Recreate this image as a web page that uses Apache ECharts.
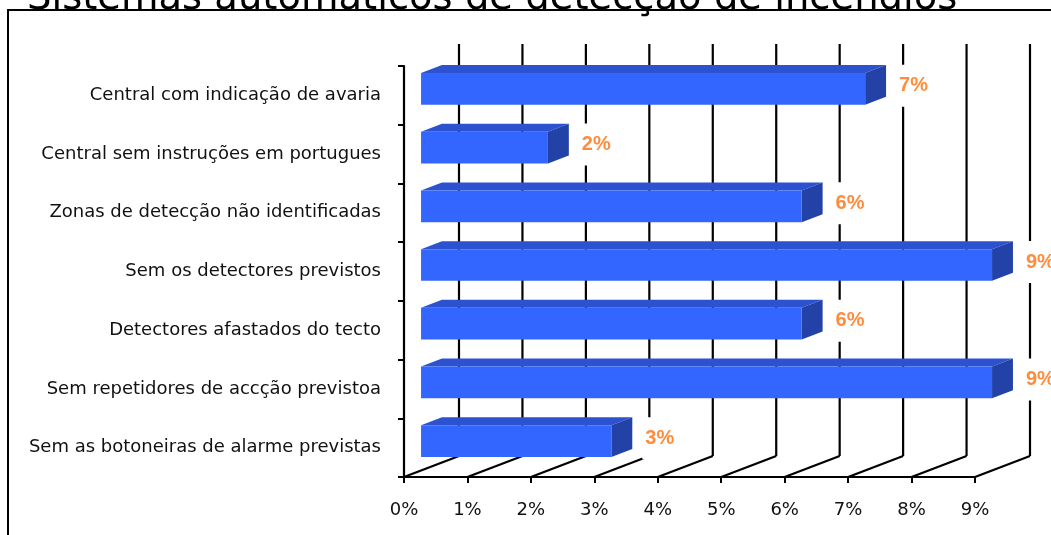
<!DOCTYPE html>
<html>
<head>
<meta charset="utf-8">
<script src="https://cdn.jsdelivr.net/npm/echarts@6/dist/echarts.min.js"></script>
<style>
  html, body { margin: 0; padding: 0; background: #fff; }
  #chart { width: 1051px; height: 535px; }
</style>
</head>
<body>
<div id="chart"></div>
<script>
// categorias (de cima para baixo)
const categories = [
  'Central com indicação de avaria',
  'Central sem instruções em portugues',
  'Zonas de detecção não identificadas',
  'Sem os detectores previstos',
  'Detectores afastados do tecto',
  'Sem repetidores de accção previstoa',
  'Sem as botoneiras de alarme previstas'
]
// percentagens
const values = [7, 2, 6, 9, 6, 9, 3]
// marcas do eixo x
const ticks = [0, 1, 2, 3, 4, 5, 6, 7, 8, 9]

const chart = echarts.init(document.getElementById('chart'))

/* profundidade 3D (estilo Excel) */
const DEPTH = [55, -21]
const FRONT = 0.31
const BACK = 0.69

function renderWall(params, api) {
  const cs = params.coordSys
  const x = api.coord([api.value(0), 0])[0]
  const bottom = cs.y + cs.height
  const top = cs.y
  const style = { stroke: '#000', lineWidth: 2.2 }
  return {
    type: 'group',
    children: [
      { type: 'line', shape: { x1: x, y1: bottom, x2: x + DEPTH[0], y2: bottom + DEPTH[1] }, style },
      { type: 'line', shape: { x1: x + DEPTH[0], y1: bottom + DEPTH[1], x2: x + DEPTH[0], y2: top + DEPTH[1] - 1 }, style }
    ]
  }
}

function renderBar(params, api) {
  const val = api.value(0)
  const cat = api.value(1)
  const p0 = api.coord([0, cat])
  const p1 = api.coord([val, cat])
  const h = api.size([0, 1])[1] * 0.54
  const fx = DEPTH[0] * FRONT, fy = DEPTH[1] * FRONT
  const dx = DEPTH[0] * (BACK - FRONT), dy = DEPTH[1] * (BACK - FRONT)
  const x = p0[0] + fx
  const y = p0[1] + fy - h / 2
  const w = p1[0] - p0[0]
  return {
    type: 'group',
    children: [
      { type: 'polygon', shape: { points: [[x, y], [x + w, y], [x + w + dx, y + dy], [x + dx, y + dy]] },
        style: { fill: '#2C52CF' } },
      { type: 'polygon', shape: { points: [[x + w, y], [x + w + dx, y + dy], [x + w + dx, y + dy + h], [x + w, y + h]] },
        style: { fill: '#2242A8' } },
      { type: 'rect', shape: { x: x, y: y, width: w, height: h }, style: { fill: '#3366FF' } },
      { type: 'text', x: x + w + dx + 10, y: (y + dy + y + h) / 2 + 1,
        style: {
          text: val + '%', fill: '#FF8C3C', fontSize: 20, fontWeight: 'bold',
          fontFamily: 'Liberation Sans',
          align: 'left', verticalAlign: 'middle', backgroundColor: '#fff', padding: [18, 3, 4, 3]
        } }
    ]
  }
}

const option = {
  animation: false,
  backgroundColor: '#fff',
  title: {
    text: 'Sistemas automáticos de detecção de incêndios',
    left: 27,
    top: -21,
    padding: 0,
    textStyle: { fontFamily: 'DejaVu Sans', fontSize: 38.5, fontWeight: 'normal', color: '#000' }
  },
  graphic: [
    { type: 'rect', shape: { x: 8, y: 10, width: 1100, height: 600 }, style: { fill: 'none', stroke: '#000', lineWidth: 2 }, z: 0 }
  ],
  grid: { left: 404, top: 66, right: 76, bottom: 58 },
  xAxis: {
    type: 'value',
    min: 0,
    max: 9,
    interval: 1,
    splitLine: { show: false },
    axisLine: { show: true, lineStyle: { color: '#000', width: 2.2 } },
    axisTick: { show: true, length: 6, lineStyle: { color: '#000', width: 2 } },
    axisLabel: { formatter: '{value}%', margin: 24, fontFamily: 'DejaVu Sans', fontSize: 18, color: '#111' }
  },
  yAxis: {
    type: 'category',
    data: categories,
    inverse: true,
    axisLine: { show: true, lineStyle: { color: '#000', width: 2.2 } },
    axisTick: { show: true, length: 6, lineStyle: { color: '#000', width: 2 } },
    axisLabel: { margin: 23, padding: [8, 0, 0, 0], fontFamily: 'DejaVu Sans', fontSize: 18, color: '#111' }
  },
  series: [
    {
      type: 'custom',
      z: 1,
      silent: true,
      renderItem: renderWall,
      encode: { x: 0, y: 1 },
      data: ticks.map(v => [v, 0])
    },
    {
      type: 'custom',
      z: 2,
      renderItem: renderBar,
      encode: { x: 0, y: 1 },
      data: values.map((v, i) => [v, i])
    }
  ]
}

chart.setOption(option)
</script>
</body>
</html>
